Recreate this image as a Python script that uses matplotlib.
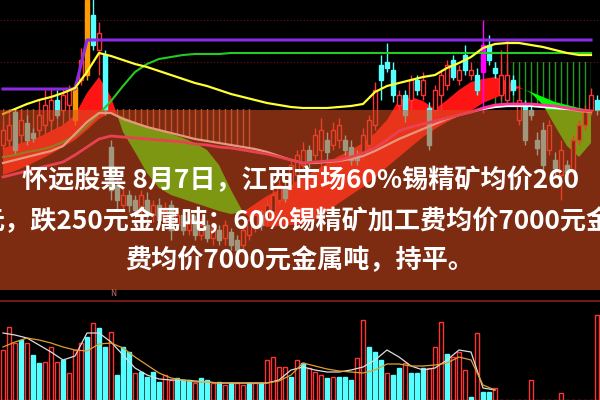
import numpy as np
import matplotlib.pyplot as plt
from matplotlib.patches import Rectangle

plt.rcParams['font.family'] = ['Noto Sans CJK SC', 'DejaVu Sans']

# daily candles (price units)
opens = [155, 160, 188, 165, 177, 167, 170, 175, 180, 200, 190, 195, 180, 220, 225, 285, 250, 245, 153, 115,
         95, 105, 100, 90, 100, 85, 95, 80, 95, 75, 85, 70, 80, 65, 75, 62, 70, 62, 68, 60,
         55, 65, 72, 85, 80, 88, 100, 112, 115, 125, 135, 150, 145, 150, 160, 155, 160, 160, 153, 145,
         145, 155, 175, 235, 238, 230, 195, 205, 200, 220, 205, 192, 190, 205, 215, 240, 220, 245, 225, 225,
         228, 255, 232, 205, 200, 220, 180, 195, 190, 160, 170, 150, 140, 125, 135, 130, 160, 175, 190, 200]
closes = [170, 175, 150, 180, 160, 162, 185, 195, 200, 185, 205, 210, 213, 240, 300, 255, 267, 190, 110, 100,
          105, 95, 90, 105, 85, 95, 80, 90, 70, 85, 70, 80, 65, 75, 62, 72, 60, 75, 55, 50,
          70, 80, 85, 75, 95, 105, 115, 102, 135, 145, 150, 138, 165, 170, 148, 170, 175, 150, 140, 140,
          165, 180, 210, 220, 232, 205, 205, 185, 220, 210, 220, 155, 210, 225, 235, 223, 230, 230, 230, 210,
          255, 240, 227, 225, 225, 210, 200, 160, 185, 152, 135, 175, 132, 150, 128, 160, 175, 190, 205, 190]
highs = [180, 185, 192, 190, 185, 172, 200, 210, 212, 210, 212, 215, 218, 252, 310, 305, 278, 250, 160, 120,
         112, 110, 105, 110, 108, 100, 102, 98, 100, 92, 90, 88, 85, 82, 80, 78, 75, 80, 72, 65,
         75, 85, 92, 90, 100, 112, 120, 118, 142, 150, 158, 155, 172, 182, 168, 178, 182, 165, 160, 150,
         172, 185, 218, 245, 257, 238, 210, 210, 225, 225, 228, 198, 215, 230, 240, 245, 235, 255, 238, 232,
         280, 265, 238, 250, 260, 225, 215, 200, 195, 168, 178, 180, 148, 160, 140, 165, 180, 195, 212, 205]
lows = [150, 155, 145, 160, 155, 158, 165, 170, 175, 182, 185, 190, 175, 215, 220, 250, 225, 185, 100, 90,
        88, 88, 82, 85, 80, 78, 75, 75, 60, 70, 65, 65, 60, 60, 58, 55, 55, 55, 50, 45,
        50, 60, 68, 70, 75, 82, 95, 98, 110, 118, 130, 132, 140, 130, 140, 150, 152, 145, 135, 135,
        140, 150, 170, 200, 228, 198, 190, 178, 190, 205, 200, 150, 185, 190, 210, 220, 215, 225, 220, 205,
        187, 235, 222, 200, 200, 205, 175, 155, 180, 145, 130, 145, 125, 100, 120, 125, 155, 170, 185, 185]
special_colors = {12: '#ff9a00', 14: '#ff9a00', 80: '#ff00ff'}

# indicator lines, one value every second session
line_idx = np.arange(0, 100, 2)
fast = [152, 155, 159, 163, 169, 175, 185, 207, 223, 203, 168, 148, 127, 112, 105, 101, 97, 93, 89, 86,
        88, 96, 104, 110, 116, 122, 129, 137, 144, 150, 157, 167, 180, 200, 203, 199, 191, 200, 210, 218,
        221, 223, 219, 213, 207, 195, 174, 154, 143, 157]
slow = [125, 129, 134, 140, 146, 153, 160, 170, 181, 188, 183, 178, 174, 170, 166, 162, 157, 150, 135, 110,
        88, 78, 73, 74, 75, 76, 81, 88, 97, 105, 113, 122, 133, 143, 153, 163, 171, 178, 184, 189,
        197, 202, 207, 212, 208, 203, 198, 195, 192, 190]
ma_yellow = [186, 191, 196, 200, 203, 207, 212, 228, 247, 244, 240, 236, 233, 229, 225, 221, 217, 214, 210, 206,
             203, 200, 197, 195, 193, 192, 192, 192, 193, 194, 196, 208, 214, 217, 220, 223, 225, 232, 237, 243,
             252, 256, 257, 257, 255, 253, 250, 247, 245, 245]
ma_green = [143, 145, 148, 150, 153, 158, 164, 174, 186, 199, 214, 228, 236, 241, 243, 245, 246, 246, 246, 247,
            247, 247, 247, 247, 247, 247, 247, 247, 247, 247, 247, 247, 247, 247, 247, 247, 247, 247, 247, 247,
            247, 247, 247, 247, 247, 247, 247, 247, 247, 247]
ma_pink = [123, 126, 129, 132, 135, 138, 145, 153, 161, 164, 163, 162, 161, 160, 159, 158, 156, 155, 153, 152,
           150, 148, 146, 143, 140, 137, 138, 139, 140, 143, 147, 152, 160, 169, 173, 176, 179, 182, 185, 188,
           192, 195, 196, 196, 196, 195, 194, 192, 190, 189]
ma_white = [137, 140, 143, 146, 149, 154, 166, 178, 187, 187, 181, 177, 173, 170, 167, 164, 161, 159, 157, 155,
            153, 151, 148, 144, 140, 137, 137, 138, 139, 141, 144, 149, 155, 161, 166, 171, 176, 181, 185, 188,
            191, 193, 194, 194, 194, 193, 192, 191, 189, 188]
ma_purple = [211, 211, 211, 211, 211, 211, 211, 260, 260, 260, 260, 260, 260, 260, 260, 260, 260, 260, 260, 260,
             260, 260, 260, 260, 260, 260, 260, 260, 260, 260, 260, 260, 260, 260, 260, 260, 260, 260, 260, 260,
             260, 260, 260, 260, 260, 260, 260, 260, 260, 260]

# volume
volume = [50, 73, 57, 60, 57, 45, 37, 38, 53, 38, 40, 27, 50, 57, 63, 77, 72, 53, 68, 25,
          53, 48, 27, 28, 23, 28, 18, 25, 20, 22, 20, 20, 17, 22, 20, 17, 18, 15, 17, 17,
          15, 17, 17, 17, 40, 43, 33, 33, 23, 40, 37, 32, 28, 25, 22, 23, 23, 23, 20, 42,
          80, 53, 48, 40, 27, 25, 32, 37, 27, 27, 32, 32, 53, 78, 46, 43, 48, 30, 3, 67,
          8, 8, 12, 0, 0, 0, 0, 0, 20, 0, 0, 0, 0, 7, 0, 0, 0, 0, 0, 85]
vol_up = [1, 1, 1, 0, 1, 0, 0, 1, 1, 1, 0, 1, 1, 1, 0, 1, 0, 0, 1, 0,
          0, 0, 1, 0, 0, 0, 0, 1, 1, 0, 0, 0, 1, 0, 0, 1, 0, 1, 0, 1,
          1, 0, 1, 0, 1, 1, 1, 1, 0, 1, 0, 1, 1, 1, 0, 1, 0, 0, 0, 1,
          1, 0, 0, 0, 1, 0, 0, 1, 0, 0, 0, 1, 1, 1, 0, 1, 1, 1, 0, 1,
          0, 0, 1, 1, 1, 1, 1, 1, 1, 1, 1, 1, 1, 1, 1, 1, 1, 1, 1, 1]
nan = np.nan
vol_ma_white = [67, 65, 62, 55, 48, 40, 44, 67, 67, 58, 45, 32, 25, 21, 20, 20, 19, 18, 17, 17,
                17, 17, 17, 20, 30, 33, 30, 28, 28, 30, 33, 40, 50, 43, 34, 30, 32, 40, 50, 48,
                12, 10, nan, nan, nan, nan, nan, nan, nan, nan]
vol_ma_orange = [53, 58, 62, 60, 57, 53, 50, 49, 56, 57, 52, 43, 35, 27, 22, 20, 18, 18, 17, 17,
                 17, 17, 17, 19, 25, 37, 34, 31, 29, 28, 27, 30, 36, 36, 34, 34, 35, 37, 43, 40,
                 15, 10, nan, nan, nan, nan, nan, nan, nan, nan]

UP = '#ff3333'
DOWN = '#55ffff'

fig = plt.figure(figsize=(6, 4), dpi=100, facecolor='black')
ax = fig.add_axes([0, 0.25, 1, 0.75])
ax.set_facecolor('black')
ax.set_xlim(-0.5, 99.5)
ax.set_ylim(0, 300)
ax.axis('off')

x = np.arange(len(opens))
o = np.array(opens, float)
c = np.array(closes, float)
h = np.array(highs, float)
l = np.array(lows, float)
fast = np.array(fast, float)
slow = np.array(slow, float)

# dotted grid
for g in (280, 238):
    ax.axhline(g, color='#6a1414', lw=0.8, ls=(0, (1, 2)), zorder=0)

# hatch lines clipped between level and white MA
clip_l = ax.fill_between(line_idx, ma_white, 191, color='none', lw=0)
hl = ax.vlines(x[:42], 0, 300, color='#b35a3c', lw=1, zorder=1)
hl.set_clip_path(clip_l.get_paths()[0], ax.transData)
clip_r = ax.fill_between(line_idx, ma_white, 238, color='none', lw=0)
hr = ax.vlines(x[82:], 0, 300, color='#1f9a1f', lw=1, zorder=1)
hr.set_clip_path(clip_r.get_paths()[0], ax.transData)

# cloud
ax.fill_between(line_idx, fast, slow, where=fast >= slow, interpolate=True,
                color='#ff1414', lw=0, zorder=2)
ax.fill_between(line_idx, fast, slow, where=fast < slow, interpolate=True,
                color='#00ff00', lw=0, zorder=2)

# candles
top = np.maximum(o, c)
bot = np.minimum(o, c)
for i in x:
    up = c[i] >= o[i]
    col = special_colors.get(i, UP if up else DOWN)
    ax.vlines(i, top[i], h[i], color=col, lw=1, zorder=3)
    ax.vlines(i, l[i], bot[i], color=col, lw=1, zorder=3)
    filled = (not up) or (i in special_colors)
    ax.bar(i, max(top[i] - bot[i], 1), bottom=bot[i], width=0.72,
           facecolor=col if filled else 'black', edgecolor=col, lw=1, zorder=3)

# moving averages
ax.plot(line_idx, ma_purple, color='#8a2be2', lw=2.2, zorder=4)
ax.plot(line_idx, ma_green, color='#22cc22', lw=1.5, zorder=4)
ax.plot(line_idx, ma_yellow, color='#ffff33', lw=1.6, zorder=4)
ax.plot(line_idx, ma_white, color='white', lw=1.6, zorder=4)
ax.plot(line_idx, ma_pink, color='#ff3399', lw=2.0, zorder=4)

# volume panel
axv = fig.add_axes([0, 0, 1, 0.25])
axv.set_facecolor('black')
axv.set_xlim(-0.5, 99.5)
axv.set_ylim(0, 100)
axv.axis('off')
vcol = [UP if u else DOWN for u in vol_up]
vface = ['black' if u else DOWN for u in vol_up]
axv.bar(x, volume, width=0.72, facecolor=vface, edgecolor=vcol, lw=1)
axv.plot(line_idx, vol_ma_white, color='#dddddd', lw=0.9)
axv.plot(line_idx, vol_ma_orange, color='#e0a030', lw=0.9)
axv.axhline(99, color='#8c1c1c', lw=1.2)
fig.text(113 / 600, 1 - 293 / 400, 'N', color='#c87070', fontsize=6, ha='center', va='center')

# caption band
fig.add_artist(Rectangle((0, 110 / 400), 1, 180 / 400, transform=fig.transFigure,
                         facecolor='#d84c20', alpha=0.58, lw=0, zorder=5))
kw = dict(color='white', fontsize=18.8, fontweight='bold', va='center', zorder=6)
fig.text(22 / 600, 1 - 181 / 400, '怀远股票 8月7日，江西市场60%锡精矿均价260', ha='left', **kw)
fig.text(-22 / 600, 1 - 222 / 400, '元，跌250元金属吨；60%锡精矿加工费均价7000元金属吨', ha='left', **kw)
fig.text(0.5, 1 - 261 / 400, '费均价7000元金属吨，持平。', ha='center', **kw)

fig.savefig('out.png', dpi=100, facecolor='black')
